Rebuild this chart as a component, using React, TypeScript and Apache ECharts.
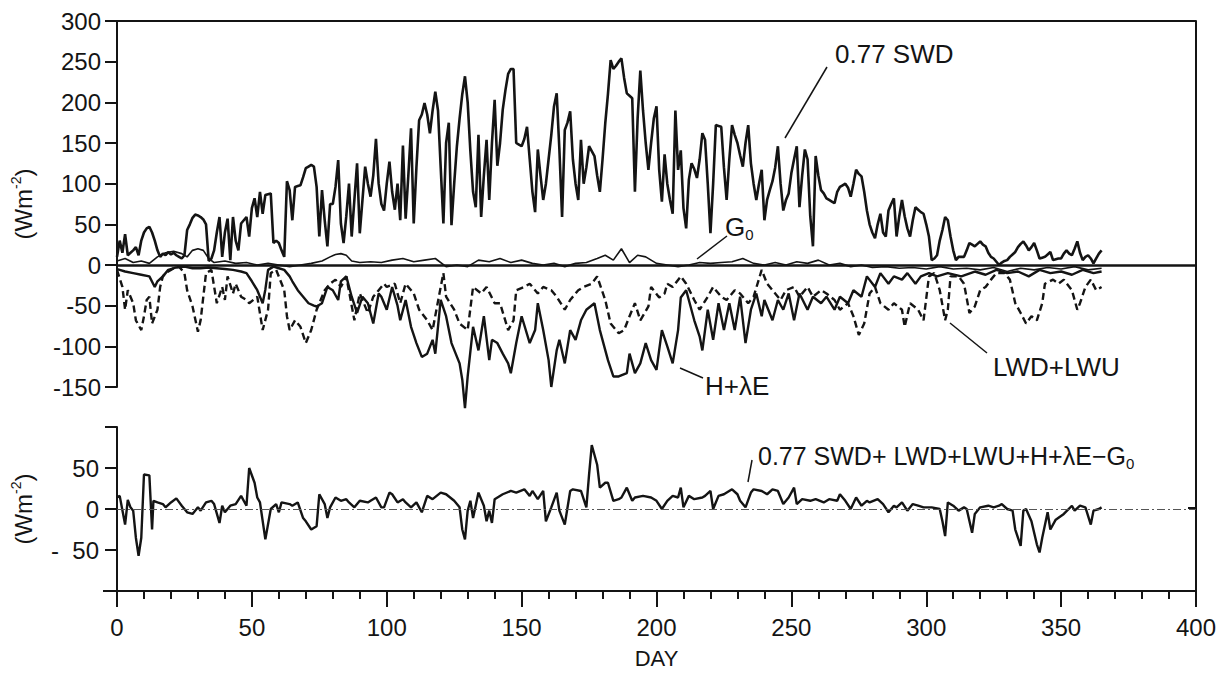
import React, { useEffect, useRef } from "react";
import * as echarts from "echarts";

// ---------- DATA (day, W m^-2) ----------
const swd: [number, number][] = [
  [0,10],[1,30],[2,15],[3,38],[4,12],[5,15],[6,18],[7,22],[8,12],[9,30],[10,40],[11,45],[12,47],[13,40],[14,30],[15,18],[16,10],[17,14],[18,12],[19,16],[20,13],[21,15],[22,12],[23,10],[24,8],[25,12],[26,43],[27,50],[28,58],[29,62],[30,61],[31,59],[32,56],[33,50],[34,5],[35,8],[36,18],[37,40],[38,59],[39,10],[40,40],[41,57],[42,6],[43,59],[44,30],[45,18],[46,51],[47,55],[48,59],[49,35],[50,70],[51,82],[52,59],[53,90],[54,63],[55,86],[56,87],[57,88],[58,27],[59,30],[60,27],[61,18],[62,10],[63,103],[64,92],[65,55],[66,96],[67,97],[68,98],[69,108],[70,119],[71,121],[72,123],[73,121],[74,96],[75,35],[76,92],[77,55],[78,23],[79,75],[80,75],[81,96],[82,129],[83,51],[84,27],[85,60],[86,100],[87,35],[88,80],[89,125],[90,39],[91,80],[92,121],[93,100],[94,84],[95,110],[96,155],[97,100],[98,75],[99,67],[100,100],[101,127],[102,90],[103,68],[104,100],[105,55],[106,147],[107,57],[108,110],[109,168],[110,51],[111,120],[112,178],[113,185],[114,199],[115,185],[116,162],[117,190],[118,213],[119,190],[120,120],[121,51],[122,150],[123,175],[124,49],[125,100],[126,146],[127,180],[128,210],[129,232],[130,200],[131,140],[132,90],[133,71],[134,160],[135,59],[136,110],[137,154],[138,80],[139,150],[140,203],[141,122],[142,150],[143,191],[144,215],[145,235],[146,241],[147,241],[148,150],[149,148],[150,146],[151,155],[152,170],[153,130],[154,90],[155,65],[156,142],[157,110],[158,80],[159,100],[160,130],[161,160],[162,195],[163,211],[164,142],[165,59],[166,166],[167,175],[168,189],[169,130],[170,100],[171,80],[172,154],[173,100],[174,120],[175,146],[176,140],[177,134],[178,110],[179,90],[180,130],[181,174],[182,210],[183,252],[184,241],[185,245],[186,250],[187,254],[188,230],[189,211],[190,208],[191,205],[192,90],[193,180],[194,239],[195,190],[196,150],[197,117],[198,150],[199,180],[200,195],[201,117],[202,78],[203,136],[204,100],[205,80],[206,63],[207,190],[208,117],[209,141],[210,70],[211,45],[212,105],[213,125],[214,118],[215,107],[216,130],[217,162],[218,154],[219,100],[220,39],[221,100],[222,172],[223,171],[224,170],[225,120],[226,80],[227,130],[228,172],[229,160],[230,150],[231,135],[232,121],[233,150],[234,172],[235,125],[236,100],[237,80],[238,100],[239,117],[240,55],[241,80],[242,92],[243,103],[244,120],[245,146],[246,100],[247,67],[248,80],[249,88],[250,113],[251,130],[252,146],[253,71],[254,110],[255,142],[256,130],[257,60],[258,23],[259,134],[260,110],[261,92],[262,88],[263,82],[264,80],[265,78],[266,76],[267,90],[268,96],[269,98],[270,100],[271,95],[272,84],[273,100],[274,117],[275,112],[276,109],[277,90],[278,67],[279,50],[280,40],[281,33],[282,50],[283,63],[284,40],[285,35],[286,67],[287,75],[288,82],[289,35],[290,60],[291,80],[292,60],[293,45],[294,35],[295,55],[296,71],[297,68],[298,65],[299,63],[300,50],[301,35],[302,6],[303,8],[304,12],[305,30],[306,43],[307,59],[308,55],[309,35],[310,18],[311,6],[312,10],[313,10],[314,10],[315,18],[316,27],[317,25],[318,23],[319,26],[320,29],[321,25],[322,23],[323,15],[324,10],[325,8],[326,4],[327,0],[328,3],[329,5],[330,6],[331,10],[332,13],[333,16],[334,22],[335,26],[336,29],[337,24],[338,18],[339,22],[340,27],[341,18],[342,8],[343,9],[344,10],[345,13],[346,16],[347,6],[348,7],[349,8],[350,8],[351,14],[352,18],[353,14],[354,12],[355,20],[356,29],[357,15],[358,6],[359,10],[360,12],[361,8],[362,2],[363,8],[364,14],[365,18],
];

const hle: [number, number][] = [
  [0,-5],[1,-6],[3,-8],[6,-10],[9,-12],[12,-14],[14,-27],[15,-20],[17,-14],[19,-6],[22,-3],[25,-2],[28,-4],[31,-4],[34,-3],[37,-4],[40,-5],[43,-6],[46,-8],[48,-10],[50,-20],[52,-31],[54,-47],[55,-30],[56,-6],[58,-2],[60,-4],[62,-6],[64,-14],[65,-20],[67,-31],[69,-39],[71,-47],[73,-50],[74,-51],[76,-47],[78,-27],[80,-31],[82,-43],[83,-20],[85,-14],[87,-39],[89,-59],[91,-39],[93,-47],[95,-72],[97,-35],[98,-39],[100,-55],[102,-27],[104,-50],[105,-68],[107,-43],[109,-76],[111,-96],[113,-113],[115,-109],[117,-92],[118,-109],[120,-43],[122,-63],[124,-96],[127,-121],[128,-141],[129,-176],[130,-137],[132,-76],[134,-105],[136,-63],[138,-117],[139,-92],[141,-96],[143,-109],[145,-121],[146,-133],[148,-96],[150,-63],[153,-96],[155,-80],[156,-47],[158,-80],[160,-117],[161,-150],[163,-105],[164,-92],[166,-121],[168,-80],[170,-92],[172,-68],[174,-55],[177,-47],[179,-80],[182,-117],[184,-137],[186,-137],[189,-133],[190,-109],[192,-133],[194,-121],[196,-96],[198,-117],[200,-129],[202,-80],[204,-100],[206,-121],[208,-80],[209,-40],[211,-31],[214,-68],[216,-88],[217,-105],[219,-55],[221,-92],[223,-47],[225,-80],[227,-47],[229,-80],[231,-39],[233,-96],[235,-55],[237,-35],[239,-63],[240,-43],[243,-68],[245,-43],[247,-55],[249,-35],[251,-68],[253,-35],[256,-55],[258,-39],[261,-47],[263,-39],[266,-55],[268,-39],[271,-47],[273,-31],[276,-39],[278,-14],[281,-27],[283,-10],[286,-23],[288,-14],[291,-18],[293,-10],[296,-23],[298,-14],[301,-10],[304,-14],[308,-10],[313,-14],[318,-8],[322,-12],[326,-6],[330,-10],[334,-8],[338,-14],[342,-6],[346,-10],[350,-8],[354,-12],[358,-6],[362,-10],[365,-8],
];

const lw: [number, number][] = [
  [0,-6],[2,-27],[3,-55],[4,-31],[6,-47],[7,-68],[9,-80],[10,-63],[11,-43],[12,-39],[13,-72],[15,-55],[16,-27],[17,-14],[18,-10],[21,-4],[23,-2],[25,-10],[26,-31],[28,-51],[30,-82],[31,-68],[32,-39],[33,-10],[35,-6],[37,-47],[39,-27],[40,-43],[41,-14],[43,-35],[44,-23],[46,-39],[48,-43],[49,-47],[52,-39],[54,-80],[56,-55],[57,-10],[59,-6],[62,-31],[63,-63],[64,-80],[66,-68],[68,-76],[70,-96],[72,-80],[74,-55],[77,-31],[79,-23],[81,-18],[83,-27],[85,-14],[88,-68],[90,-35],[93,-59],[95,-39],[99,-23],[100,-27],[103,-23],[105,-47],[107,-23],[110,-35],[112,-55],[115,-68],[117,-80],[120,-27],[121,-10],[122,-39],[125,-55],[127,-72],[130,-80],[132,-27],[135,-35],[137,-27],[140,-47],[142,-47],[145,-80],[147,-68],[148,-31],[151,-27],[153,-23],[156,-35],[158,-27],[161,-31],[163,-39],[166,-55],[168,-43],[171,-31],[173,-27],[176,-23],[178,-14],[181,-43],[183,-72],[186,-84],[188,-80],[190,-63],[192,-47],[194,-68],[197,-51],[198,-27],[201,-40],[203,-35],[204,-23],[206,-27],[209,-14],[211,-23],[214,-43],[216,-55],[219,-39],[221,-27],[224,-39],[226,-43],[229,-31],[231,-35],[234,-47],[236,-39],[239,-6],[241,-23],[244,-35],[246,-43],[248,-31],[251,-27],[253,-39],[256,-27],[258,-39],[261,-31],[263,-35],[266,-43],[268,-55],[271,-47],[273,-63],[275,-86],[277,-72],[279,-35],[281,-27],[283,-47],[286,-55],[288,-47],[291,-55],[292,-76],[294,-47],[297,-55],[299,-68],[301,-14],[303,-10],[305,-31],[307,-68],[308,-55],[309,-14],[312,-14],[314,-23],[316,-59],[318,-51],[320,-31],[322,-27],[324,-18],[326,-10],[329,-10],[331,-18],[333,-47],[335,-59],[337,-72],[339,-63],[341,-68],[343,-47],[344,-23],[347,-18],[349,-23],[351,-18],[354,-31],[356,-55],[357,-47],[359,-27],[361,-18],[363,-31],[365,-27],
];

const g0: [number, number][] = [
  [0,5],[3,8],[6,3],[9,5],[12,2],[15,10],[18,15],[21,17],[24,14],[26,10],[28,18],[30,20],[32,18],[34,8],[36,3],[40,5],[44,2],[48,3],[52,0],[56,2],[60,0],[64,-2],[68,0],[72,2],[76,5],[79,10],[81,13],[83,14],[85,12],[87,5],[90,3],[94,4],[98,3],[102,6],[106,8],[110,4],[114,6],[118,8],[122,-2],[126,0],[130,-2],[134,6],[138,4],[142,8],[146,3],[150,6],[154,2],[158,0],[162,2],[166,-2],[170,2],[174,3],[178,8],[181,12],[184,6],[187,20],[190,3],[193,12],[196,10],[200,2],[204,0],[208,-2],[212,0],[216,3],[220,2],[224,3],[228,4],[232,8],[236,2],[240,0],[244,3],[248,0],[252,4],[256,2],[260,6],[264,0],[268,2],[272,-2],[276,0],[280,-3],[285,-2],[290,-4],[295,-3],[300,-5],[305,-2],[310,-5],[315,-4],[320,-6],[325,-3],[330,-8],[335,-4],[340,-6],[345,-3],[350,-5],[355,-2],[360,-6],[365,-4],
];

const residual: [number, number][] = [
  [0,14],[1,16],[3,-19],[4,11],[5,2],[6,-2],[7,-35],[8,-57],[9,-35],[10,42],[12,41],[13,-25],[13.5,10],[15,8],[17,6],[18,2],[20,8],[22,13],[24,4],[26,-4],[28,-6],[30,2],[31,-2],[33,8],[35,10],[36,6],[38,-17],[39,4],[40,-4],[42,4],[44,6],[46,16],[48,4],[49,50],[51,32],[52,14],[53,8],[55,-37],[57,0],[59,6],[60,-4],[61,8],[64,6],[65,4],[67,8],[69,-11],[70,-15],[72,-25],[74,-21],[75,18],[77,6],[78,-11],[79,2],[81,14],[83,10],[85,12],[86,8],[88,2],[90,10],[93,8],[94,10],[96,14],[98,2],[99,2],[101,20],[102,18],[104,8],[106,12],[107,8],[109,2],[111,8],[113,-4],[115,16],[117,12],[120,20],[122,18],[125,10],[127,2],[128,-25],[129,-37],[130,-2],[131,10],[132,-11],[134,20],[136,4],[137,-15],[138,-2],[139,-17],[140,12],[143,18],[146,22],[148,20],[151,24],[153,16],[154,22],[156,12],[158,22],[159,-15],[161,2],[163,20],[164,-2],[166,-19],[168,22],[169,24],[172,22],[174,2],[175,42],[176,78],[178,54],[179,26],[181,32],[182,32],[184,10],[186,12],[187,14],[189,26],[191,10],[192,14],[195,16],[198,14],[200,10],[202,0],[204,10],[206,16],[208,14],[209,26],[210,2],[212,16],[214,12],[217,14],[218,16],[220,22],[221,0],[223,16],[225,18],[228,24],[230,18],[231,10],[233,2],[235,20],[236,24],[239,22],[241,18],[243,24],[245,22],[247,6],[249,14],[251,26],[252,6],[254,12],[257,10],[259,12],[262,8],[264,12],[267,10],[268,18],[270,10],[272,0],[274,14],[276,4],[278,10],[279,8],[282,12],[284,6],[286,-4],[288,4],[289,2],[291,8],[293,-2],[295,6],[297,4],[299,2],[302,2],[305,0],[306,-15],[307,-33],[308,8],[310,4],[312,-2],[314,2],[315,0],[317,-29],[318,-6],[320,2],[323,4],[325,2],[327,4],[328,6],[330,0],[332,-2],[333,-25],[335,-45],[336,-2],[337,0],[339,-15],[341,-43],[342,-53],[343,-35],[345,-4],[346,-25],[348,-13],[351,-6],[354,4],[355,-2],[357,4],[359,2],[361,-19],[362,-2],[364,0],[365,2],
];

const topTicks = { min: -150, max: 300, step: 50 };
const bottomTicks = { min: -100, max: 100, step: 50 };
const dayTicks = { min: 0, max: 400, step: 50 };

const FONT = '"Liberation Sans", Arial, Helvetica, sans-serif';
const INK = "#141414";

export default function App() {
  const ref = useRef<HTMLDivElement>(null);

  useEffect(() => {
    document.body.style.margin = "0";
    if (!ref.current) return;
    const chart = echarts.init(ref.current, null, { renderer: "svg" });

    const tickLabel = { fontSize: 24, color: INK, fontFamily: FONT };
    const wmName = {
      fontSize: 24,
      color: INK,
      fontFamily: FONT,
      rich: {
        a: { fontSize: 24, fontFamily: FONT, color: INK, lineHeight: 28 },
        s: { fontSize: 14, fontFamily: FONT, color: INK, verticalAlign: "top", lineHeight: 28 },
      },
    };

    const line = (data: [number, number][], width: number, extra: any = {}) => ({
      type: "line",
      data,
      showSymbol: false,
      symbol: "none",
      clip: false,
      xAxisIndex: 0,
      yAxisIndex: 0,
      lineStyle: { color: INK, width, ...extra },
      z: 3,
    });

    chart.setOption({
      animation: false,
      backgroundColor: "#ffffff",
      grid: [
        { left: 117, right: 32, top: 21, height: 366 },
        { left: 117, right: 32, top: 427, height: 164 },
      ],
      xAxis: [
        {
          gridIndex: 0,
          type: "value",
          min: dayTicks.min,
          max: dayTicks.max,
          interval: dayTicks.step,
          position: "top",
          axisLine: { show: true, onZero: false, lineStyle: { color: INK, width: 2 } },
          axisTick: { show: false },
          axisLabel: { show: false },
          splitLine: { show: false },
        },
        {
          gridIndex: 1,
          type: "value",
          min: dayTicks.min,
          max: dayTicks.max,
          interval: dayTicks.step,
          axisLine: { show: true, onZero: false, lineStyle: { color: INK, width: 2 } },
          axisTick: { show: true, inside: false, length: 16, lineStyle: { color: INK, width: 2 } },
          minorTick: { show: true, splitNumber: 5, length: 8, lineStyle: { color: INK, width: 2 } },
          axisLabel: { ...tickLabel, margin: 24 },
          splitLine: { show: false },
          name: "DAY",
          nameLocation: "middle",
          nameGap: 56,
          nameTextStyle: { fontSize: 22, color: INK, fontFamily: FONT },
        },
      ],
      yAxis: [
        {
          gridIndex: 0,
          type: "value",
          min: topTicks.min,
          max: topTicks.max,
          interval: topTicks.step,
          axisLine: { show: true, onZero: false, lineStyle: { color: INK, width: 2 } },
          axisTick: { show: true, length: 12, lineStyle: { color: INK, width: 2 } },
          axisLabel: { ...tickLabel, margin: 16 },
          splitLine: { show: false },
          name: "{a|(Wm}{s|-2}{a|)}",
          nameLocation: "middle",
          nameRotate: 90,
          nameGap: 80,
          nameTextStyle: wmName,
        },
        {
          gridIndex: 1,
          type: "value",
          min: bottomTicks.min,
          max: bottomTicks.max,
          interval: bottomTicks.step,
          axisLine: { show: true, onZero: false, lineStyle: { color: INK, width: 2 } },
          axisTick: { show: true, length: 12, lineStyle: { color: INK, width: 2 } },
          axisLabel: {
            ...tickLabel,
            margin: 18,
            formatter: (v: number) =>
              v === bottomTicks.max || v === bottomTicks.min ? "" : v < 0 ? "-  " + Math.abs(v) : String(v),
          },
          splitLine: { show: false },
          name: "{a|(Wm}{s|-2}{a|)}",
          nameLocation: "middle",
          nameRotate: 90,
          nameGap: 80,
          nameTextStyle: wmName,
        },
      ],
      series: [
        {
          ...line(lw, 2.4, { type: [7, 4] }),
          name: "LWD+LWU",
          markLine: {
            silent: true,
            symbol: ["none", "none"],
            label: { show: false },
            lineStyle: { color: INK, width: 2.5, type: "solid" },
            data: [{ yAxis: 0 }],
          },
        },
        { ...line(g0, 1.6), name: "G0" },
        { ...line(hle, 2.4), name: "H+λE" },
        { ...line(swd, 2.6), name: "0.77 SWD" },
        {
          type: "line",
          name: "residual",
          data: residual,
          xAxisIndex: 1,
          yAxisIndex: 1,
          showSymbol: false,
          symbol: "none",
          clip: false,
          lineStyle: { color: INK, width: 2.4 },
          markLine: {
            silent: true,
            symbol: ["none", "none"],
            label: { show: false },
            lineStyle: { color: "#555", width: 1, type: [8, 3, 2, 3] },
            data: [{ yAxis: 0 }],
          },
        },
      ],
      graphic: [
        // right-hand frame and small axis extensions
        { type: "line", shape: { x1: 1196, y1: 21, x2: 1196, y2: 591 }, style: { stroke: INK, lineWidth: 2 } },
        { type: "line", shape: { x1: 1188, y1: 508, x2: 1196, y2: 508 }, style: { stroke: INK, lineWidth: 2 } },
        { type: "line", shape: { x1: 103, y1: 591, x2: 117, y2: 591 }, style: { stroke: INK, lineWidth: 2 } },
        // annotations
        { type: "text", left: 835, top: 41, style: { text: "0.77 SWD", font: `26px ${FONT}`, fill: INK } },
        { type: "line", shape: { x1: 827, y1: 67, x2: 785, y2: 138 }, style: { stroke: INK, lineWidth: 1.5 } },
        {
          type: "text",
          left: 725,
          top: 214,
          style: {
            text: "{g|G}{s|0}",
            rich: {
              g: { font: `26px ${FONT}`, fill: INK, lineHeight: 30 },
              s: { font: `15px ${FONT}`, fill: INK, verticalAlign: "bottom", lineHeight: 30 },
            },
          },
        },
        { type: "line", shape: { x1: 727, y1: 236, x2: 697, y2: 259 }, style: { stroke: INK, lineWidth: 1.5 } },
        { type: "text", left: 705, top: 373, style: { text: "H+λE", font: `26px ${FONT}`, fill: INK } },
        { type: "line", shape: { x1: 680, y1: 368, x2: 703, y2: 378 }, style: { stroke: INK, lineWidth: 1.5 } },
        { type: "text", left: 993, top: 354, style: { text: "LWD+LWU", font: `26px ${FONT}`, fill: INK } },
        { type: "line", shape: { x1: 950, y1: 323, x2: 987, y2: 353 }, style: { stroke: INK, lineWidth: 1.5 } },
        {
          type: "text",
          left: 758,
          top: 443,
          style: {
            text: "{t|0.77 SWD+ LWD+LWU+H+λE−G}{s|0}",
            rich: {
              t: { font: `25px ${FONT}`, fill: INK, lineHeight: 30 },
              s: { font: `15px ${FONT}`, fill: INK, verticalAlign: "bottom", lineHeight: 30 },
            },
          },
        },
        { type: "line", shape: { x1: 752, y1: 460, x2: 748, y2: 482 }, style: { stroke: INK, lineWidth: 1.5 } },
      ],
    });

    return () => chart.dispose();
  }, []);

  return <div ref={ref} style={{ width: 1228, height: 675 }} />;
}
